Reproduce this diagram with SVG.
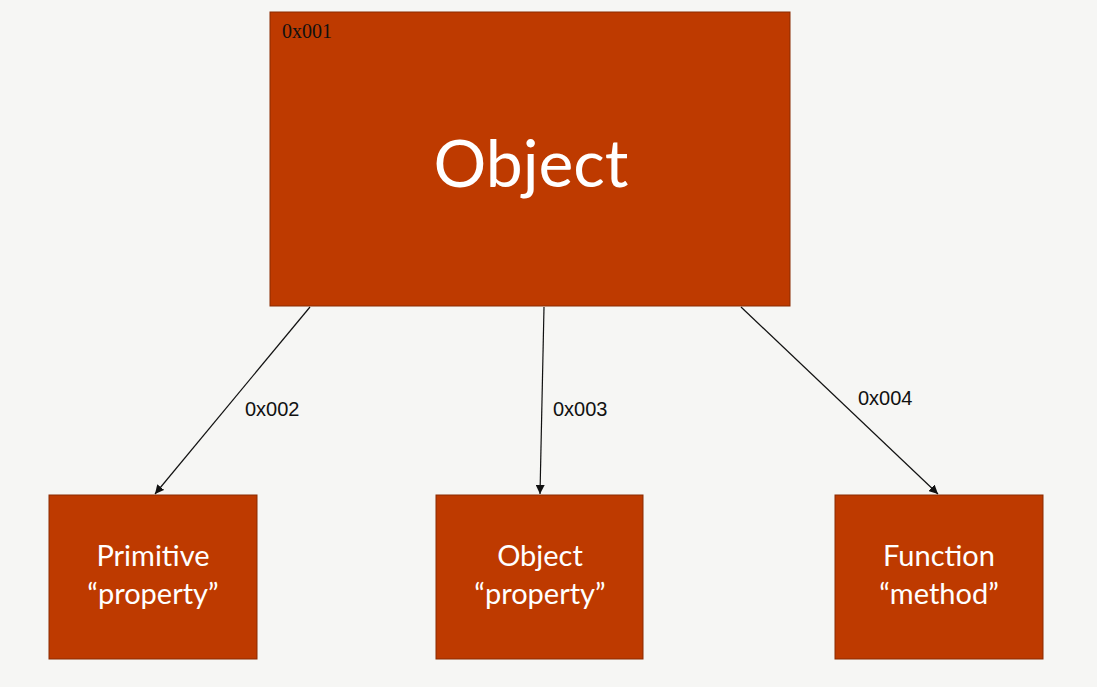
<svg xmlns="http://www.w3.org/2000/svg" width="1097" height="687" viewBox="0 0 1097 687">
<style>
.box{fill:#BE3A00;stroke:#8A2A00;stroke-width:1}
.big{font-family:"Lato","Open Sans",sans-serif;fill:#fff;text-anchor:middle}
.lbl{font-family:"Liberation Sans",Arial,sans-serif;font-size:20px;fill:#111}
.con{stroke:#111;stroke-width:1.2;fill:none;marker-end:url(#ah)}
</style>
<defs><marker id="ah" viewBox="0 0 10 10" refX="10" refY="5" markerWidth="9" markerHeight="9" orient="auto" markerUnits="userSpaceOnUse"><path d="M0,0 L10,5 L0,10 z" fill="#111"/></marker></defs>
<rect width="1097" height="687" fill="#F6F6F4"/>
<g id="obj"><rect class="box" x="270" y="12" width="520" height="294"/>
<text x="282" y="38" font-family="Liberation Serif,serif" font-size="20" fill="#111">0x001</text>
<text class="big" x="531" y="187" font-size="66">Object</text></g>
<g id="prim"><rect class="box" x="49" y="495" width="208" height="164"/>
<text class="big" x="153" y="566" font-size="29">Primitive</text><text class="big" x="153" y="604" font-size="29">“property”</text></g>
<g id="objp"><rect class="box" x="436" y="495" width="207" height="164"/>
<text class="big" x="540" y="566" font-size="29">Object</text><text class="big" x="540" y="604" font-size="29">“property”</text></g>
<g id="func"><rect class="box" x="835" y="495" width="208" height="164"/>
<text class="big" x="939" y="566" font-size="29">Function</text><text class="big" x="939" y="604" font-size="29">“method”</text></g>
<g id="connectors">
<line class="con" x1="310" y1="307" x2="155" y2="494"/>
<line class="con" x1="544" y1="307" x2="540" y2="494"/>
<line class="con" x1="741" y1="307" x2="938" y2="494"/>
<text class="lbl" x="245" y="416">0x002</text>
<text class="lbl" x="553" y="416">0x003</text>
<text class="lbl" x="858" y="405">0x004</text>
</g>
</svg>
